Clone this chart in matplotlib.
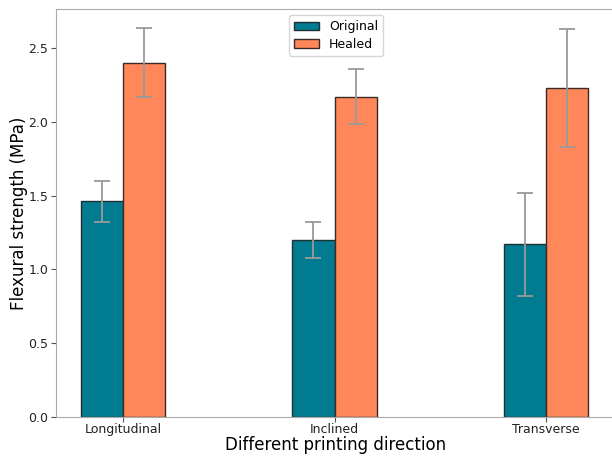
import matplotlib
matplotlib.use("Agg")
import matplotlib.pyplot as plt
import numpy as np

categories = ["Longitudinal", "Inclined", "Transverse"]
original = [1.46, 1.20, 1.17]
original_err = [0.14, 0.12, 0.35]
healed = [2.40, 2.17, 2.23]
healed_err = [0.235, 0.185, 0.40]

W, H = 612, 457
fig = plt.figure(figsize=(W / 100, H / 100), dpi=100)
ax = fig.add_axes([56 / W, 40 / H, (616 - 56) / W, (417 - 9) / H])

x = np.arange(len(categories))
w = 0.2
err_kw = dict(ecolor="#999999", elinewidth=1.3, capsize=6, capthick=1.3)
ax.bar(x - w / 2, original, w, yerr=original_err, color="#007b8f",
       edgecolor="#1f2f33", linewidth=1, label="Original", error_kw=err_kw)
ax.bar(x + w / 2, healed, w, yerr=healed_err, color="#ff8759",
       edgecolor="#3a2a25", linewidth=1, label="Healed", error_kw=err_kw)

ax.set_xlim(-0.317, 2.33)
ax.set_ylim(0, 2.764)
ax.set_xticks(x)
ax.set_xticklabels(categories, fontsize=9)
ax.set_yticks([0, 0.5, 1.0, 1.5, 2.0, 2.5])
ax.set_yticklabels(["0.0", "0.5", "1.0", "1.5", "2.0", "2.5"], fontsize=9)
ax.tick_params(axis="x", length=3.5, color="#555555", pad=1, labelcolor="#222222")
ax.tick_params(axis="y", length=3.5, color="#555555", pad=2, labelcolor="#222222")
for s in ax.spines.values():
    s.set_color("#aaaaaa")
ax.set_xlabel("Different printing direction", fontsize=12, labelpad=0)
ax.set_ylabel("Flexural strength (MPa)", fontsize=12, labelpad=0.5)
ax.legend(loc="upper center", fontsize=9, bbox_to_anchor=(0.5, 1.0),
          labelspacing=0.35)

fig.savefig("out.png", dpi=100)
